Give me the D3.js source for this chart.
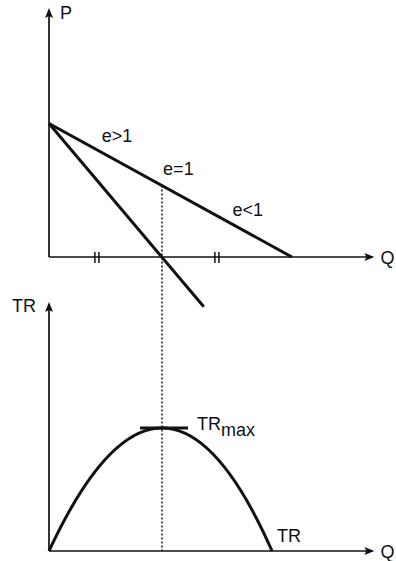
<!DOCTYPE html>
<html lang="en">
<head>
<meta charset="UTF-8">
<title>Elasticity and total revenue</title>
<script src="https://d3js.org/d3.v7.min.js"></script>
<style>
    body { margin: 0; background: #fff; }
    svg text { font-family: "Liberation Sans", Arial, Helvetica, sans-serif; fill: #111; }
    .axis { stroke: #111; stroke-width: 1.7; fill: none; }
    .curve { stroke: #111; stroke-width: 3; fill: none; }
    .dotted { stroke: #111; stroke-width: 1.5; stroke-dasharray: 2 2; fill: none; }
</style>
</head>
<body>
<svg id="chart" width="396" height="561"></svg>
<script>
// data (in chart units)
const demandFlat = [[0, 5.9], [10.75, 0]];
const demandSteep = [[0, 5.9], [6.85, -2.2]];
const unitElasticQ = 5;
const equalTickQ = [2.12, 7.43];
const trStart = [0, 0];
const trPeak = [5, 5.43];
const trEnd = [9.87, 0];
const tangentQ = [4.03, 6.15];
const elasticityLabels = ["e>1", "e=1", "e<1"];
const axisLabels = { price: "P", quantity: "Q", revenue: "TR" };

const svg = d3.select("#chart");

// scales
const x = d3.scaleLinear().domain([0, 14.4]).range([49, 374.4]);
const yP = d3.scaleLinear().domain([0, 11]).range([257, 8]);
const yTR = d3.scaleLinear().domain([0, 11]).range([551, 302]);

function arrowHead(tx, ty, dir) {
    // dir: "up" or "right"
    const len = 10, half = 4, notch = 2;
    let pts;
    if (dir === "up") {
        pts = [[tx, ty], [tx + half, ty + len], [tx, ty + len - notch], [tx - half, ty + len]];
    } else {
        pts = [[tx, ty], [tx - len, ty + half], [tx - len + notch, ty], [tx - len, ty - half]];
    }
    svg.append("path")
        .attr("d", "M" + pts.map(p => p.join(",")).join("L") + "Z")
        .attr("fill", "#111");
}

function axes(yScale, yTop, yLabel, yLabelPos) {
    svg.append("line").attr("class", "axis")
        .attr("x1", x(0)).attr("y1", yScale(0))
        .attr("x2", x(0)).attr("y2", yScale(yTop) + 4);
    arrowHead(x(0), yScale(yTop), "up");
    svg.append("line").attr("class", "axis")
        .attr("x1", x(0)).attr("y1", yScale(0))
        .attr("x2", x(14.4) - 4).attr("y2", yScale(0));
    arrowHead(x(14.4), yScale(0), "right");
    svg.append("text").attr("x", x(14.4) + 6).attr("y", yScale(0) + 7)
        .attr("font-size", 18).text(axisLabels.quantity);
    svg.append("text").attr("x", yLabelPos[0]).attr("y", yLabelPos[1])
        .attr("font-size", 18).text(yLabel);
}

// top panel: demand curves
axes(yP, 11, axisLabels.price, [x(0) + 11, 19]);

const lineP = d3.line().x(d => x(d[0])).y(d => yP(d[1]));
svg.append("path").datum(demandFlat).attr("class", "curve").attr("d", lineP);
svg.append("path").datum(demandSteep).attr("class", "curve").attr("d", lineP);

// equal-length tick marks on Q axis
equalTickQ.forEach(q => {
    [-2, 2].forEach(off => {
        svg.append("line")
            .attr("x1", x(q) + off).attr("x2", x(q) + off)
            .attr("y1", yP(0) - 5).attr("y2", yP(0) + 6)
            .attr("stroke", "#111").attr("stroke-width", 1.5);
    });
});

// unit elastic point on the flat demand curve
const pUnit = demandFlat[0][1] * (1 - unitElasticQ / demandFlat[1][0]);

// elasticity labels
const labelPos = [[2.33, 5.1], [5.05, 3.63], [8.12, 1.81]];
elasticityLabels.forEach((t, i) => {
    svg.append("text")
        .attr("x", x(labelPos[i][0])).attr("y", yP(labelPos[i][1]))
        .attr("font-size", 18).text(t);
});

// bottom panel: total revenue
axes(yTR, 11, axisLabels.revenue, [12, 312]);

// dotted connector
svg.append("line").attr("class", "dotted")
    .attr("x1", x(unitElasticQ)).attr("x2", x(unitElasticQ))
    .attr("y1", yP(pUnit)).attr("y2", yTR(0));

// TR parabola: quadratic curve through start, peak, end
const ctrl = [2 * trPeak[0] - (trStart[0] + trEnd[0]) / 2, 2 * trPeak[1] - (trStart[1] + trEnd[1]) / 2];
const trPath = d3.path();
trPath.moveTo(x(trStart[0]), yTR(trStart[1]));
trPath.quadraticCurveTo(x(ctrl[0]), yTR(ctrl[1]), x(trEnd[0]), yTR(trEnd[1]));
svg.append("path").attr("class", "curve").attr("d", trPath.toString());

// tangent at the maximum
svg.append("line").attr("class", "curve")
    .attr("x1", x(tangentQ[0])).attr("x2", x(tangentQ[1]))
    .attr("y1", yTR(trPeak[1])).attr("y2", yTR(trPeak[1]));

const trMax = svg.append("text")
    .attr("x", x(tangentQ[1]) + 9).attr("y", yTR(trPeak[1]) + 2)
    .attr("font-size", 18);
trMax.append("tspan").text("TR");
trMax.append("tspan").attr("dy", 6).text("max");

svg.append("text")
    .attr("x", x(trEnd[0]) + 5).attr("y", yTR(0) - 9)
    .attr("font-size", 18).text("TR");
</script>
</body>
</html>
